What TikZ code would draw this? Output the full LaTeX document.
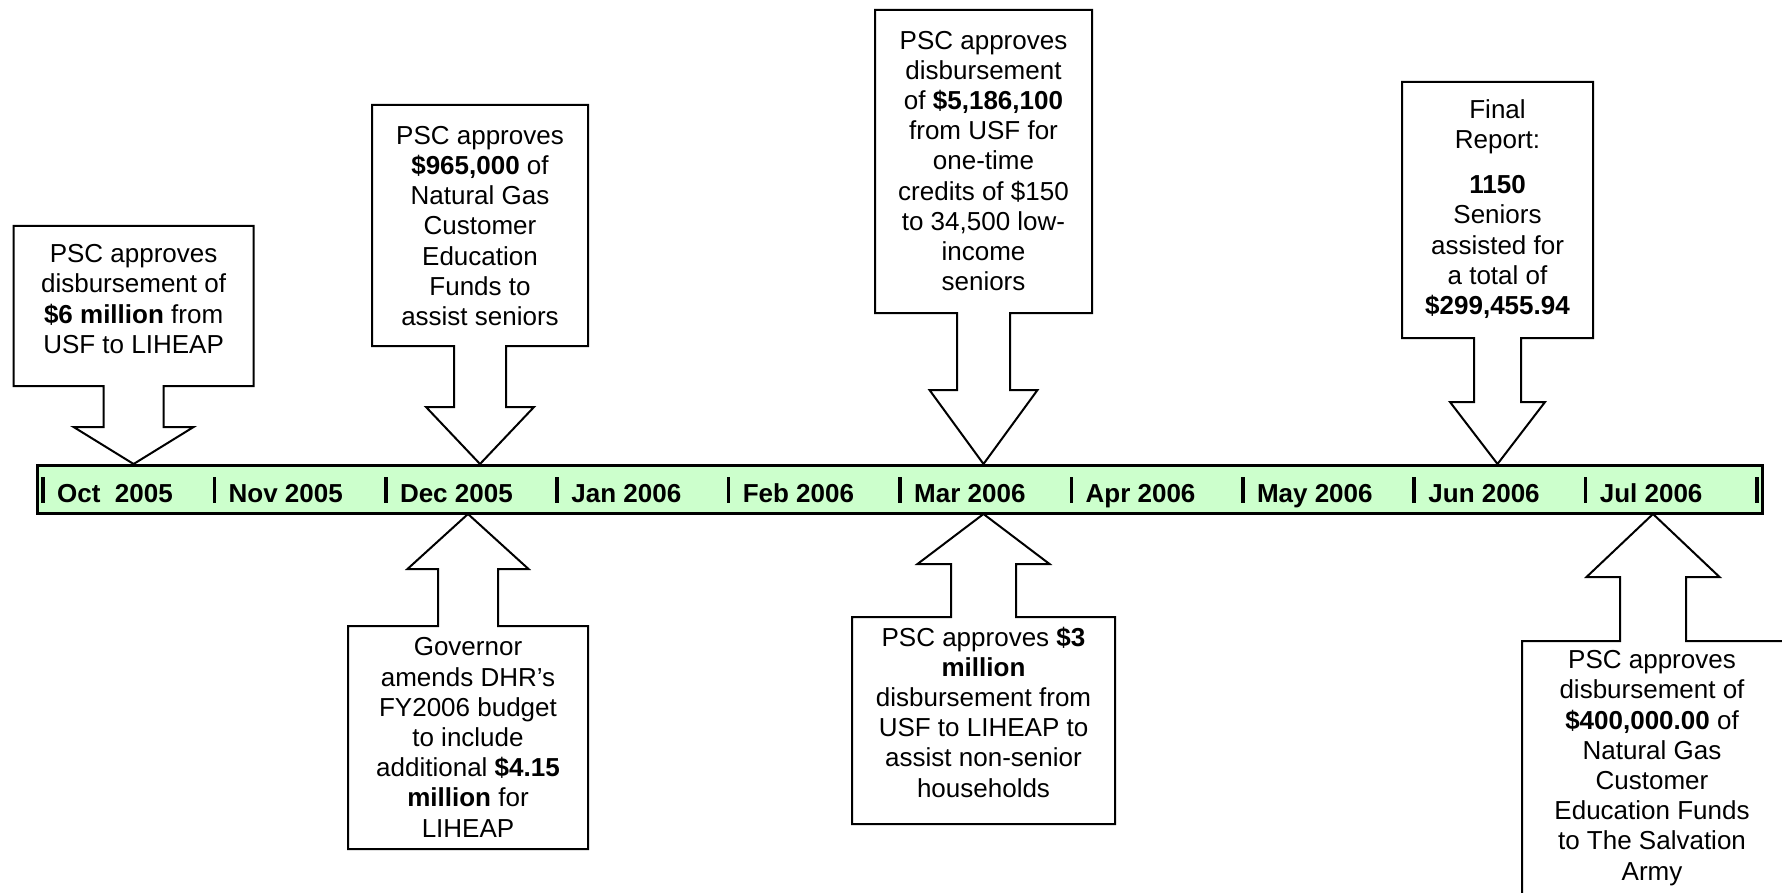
\documentclass[tikz,border=0pt]{standalone}
\usepackage{fontspec}
\setmainfont{Liberation Sans}
\definecolor{barfill}{HTML}{CCFFCC}
\newcommand\calloutshape[9]{% L R T B c shaft-hw head-hw head-base tip-y ; arrow leaves the box side at y=#4 (down) 
  \draw[callout] (#1,#3) -- (#2,#3) -- (#2,#4) -- ({#5+#6},#4) -- ({#5+#6},#8) -- ({#5+#7},#8)
    -- (#5,#9) -- ({#5-#7},#8) -- ({#5-#6},#8) -- ({#5-#6},#4) -- (#1,#4) -- cycle;}
\newcommand\calloutup[9]{% L R T B c shaft-hw head-hw head-base tip-y ; arrow leaves the box top at y=#3
  \draw[callout] (#1,#4) -- (#1,#3) -- ({#5-#6},#3) -- ({#5-#6},#8) -- ({#5-#7},#8)
    -- (#5,#9) -- ({#5+#7},#8) -- ({#5+#6},#8) -- ({#5+#6},#3) -- (#2,#3) -- (#2,#4) -- cycle;}
\begin{document}
\begin{tikzpicture}[x=1pt,y=-1pt,
  callout/.style={draw=black, line width=2pt, fill=white, line join=miter},
  txt/.style={align=center, font=\fontsize{26}{30.2}\selectfont, inner sep=0pt},
  mlabel/.style={anchor=base west, font=\fontsize{26}{30}\selectfont\bfseries, inner sep=0pt},
  tickmark/.style={line width=3.5pt},
  timebar/.style={draw=black, line width=3pt, fill=barfill, inner sep=0pt,
    minimum width=1725pt, minimum height=48pt}]
\useasboundingbox (0,0) rectangle (1782,893);
\clip (0,0) rectangle (1782,893);

% timeline bar
\node[timebar] (bar) at (899.5,489) {};
\foreach \lab [count=\k from 0] in {Oct\ \ 2005,Nov 2005,Dec 2005,Jan 2006,Feb 2006,Mar 2006,Apr 2006,May 2006,Jun 2006,Jul 2006} {
  \pgfmathsetmacro\tx{43+171.4*\k}
  \draw[tickmark] (\tx,477) -- (\tx,503);
  \node[mlabel] (m\k) at ({\tx+14},502) {\lab};
}
\draw[tickmark] (1757,477) -- (1757,503);

% callouts above the bar
\calloutshape{13.6}{253.6}{226}{386}{133.6}{30}{60}{427}{464}
\calloutshape{372}{588}{105}{346}{480}{26}{54}{407}{464}
\calloutshape{875}{1092}{10}{313}{983.5}{26.5}{54}{390}{464}
\calloutshape{1402}{1593}{82}{338}{1497.5}{23.5}{47.5}{402}{464}
% callouts below the bar
\calloutup{348}{588}{626}{849}{468}{30}{60.5}{569}{514}
\calloutup{852}{1115}{617}{824}{983.5}{32.5}{66}{564}{514}
\calloutup{1522}{1790}{641}{905}{1653}{33}{66.5}{577}{514}

% texts
\node[txt] (t1) at (133.6,299) {PSC approves\\disbursement of\\\textbf{\$6 million} from\\USF to LIHEAP};
\node[txt] (t2) at (480,226) {PSC approves\\\textbf{\$965,000} of\\Natural Gas\\Customer\\Education\\Funds to\\assist seniors};
\node[txt] (t3) at (983.5,161) {PSC approves\\disbursement\\of \textbf{\$5,186,100}\\from USF for\\one-time\\credits of \$150\\to 34,500 low-\\income\\seniors};
\node[txt] (t4) at (1497.5,209) {Final\\Report:\\[15pt]\textbf{1150}\\Seniors\\assisted for\\a total of\\\textbf{\$299,455.94}};
\node[txt] (t5) at (468,737.5) {Governor\\amends DHR’s\\FY2006 budget\\to include\\additional \textbf{\$4.15}\\\textbf{million} for\\LIHEAP};
\node[txt] (t6) at (983.5,712) {PSC approves \textbf{\$3}\\\textbf{million}\\disbursement from\\USF to LIHEAP to\\assist non-senior\\households};
\node[txt] (t7) at (1652,768) {PSC approves\\disbursement of\\\textbf{\$400,000.00} of\\Natural Gas\\Customer\\Education Funds\\to The Salvation\\Army};
\end{tikzpicture}
\end{document}
